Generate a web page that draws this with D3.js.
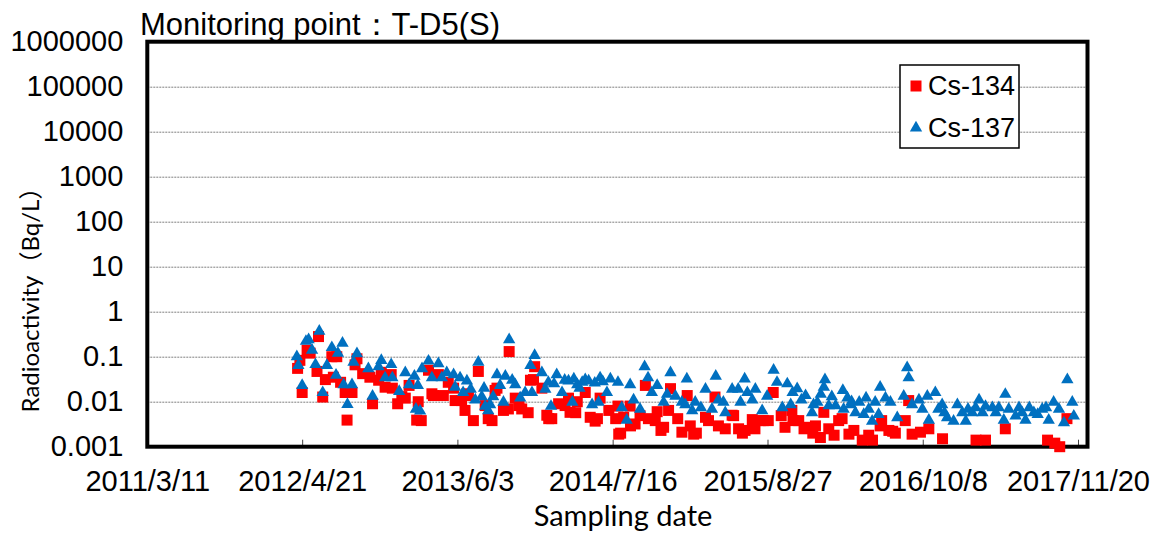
<!DOCTYPE html>
<html>
<head>
<meta charset="utf-8">
<script src="https://cdn.jsdelivr.net/npm/d3@7"></script>
<style>
body { margin: 0; background: #fff; }
text { font-family: "Liberation Sans", Arial, sans-serif; }
</style>
</head>
<body>
<svg width="1157" height="535"></svg>
<script>
// Cs-134 samples (Bq/L)
const cs134Dates = [
  "2012-04-09","2012-04-21","2012-05-04","2012-05-12","2012-05-30","2012-06-03","2012-06-14","2012-07-08",
  "2012-07-12","2012-07-21","2012-08-12","2012-08-17","2012-08-30","2012-09-07","2012-09-12","2012-10-16",
  "2012-10-23","2012-11-15","2012-11-25","2012-12-11","2012-12-28","2013-01-08","2013-01-27","2013-02-16",
  "2013-02-20","2013-02-28","2013-03-19","2013-04-01","2013-04-14","2013-04-27","2013-05-10","2013-05-24",
  "2013-06-14","2013-06-23","2013-06-28","2013-07-15","2013-07-28","2013-08-23","2013-09-10","2013-09-15",
  "2013-10-15","2013-10-17","2013-11-02","2013-11-19","2013-12-12","2013-12-20","2014-01-11","2014-01-24",
  "2014-02-06","2014-02-24","2014-03-22","2014-03-26","2014-04-14","2014-05-05","2014-05-18","2014-05-31",
  "2014-06-13","2014-07-06","2014-07-30","2014-08-01","2014-08-14","2014-08-31","2014-09-13","2014-10-10",
  "2014-10-18","2014-11-10","2014-11-27","2014-12-10","2014-12-15","2015-01-14","2015-01-28","2015-02-14",
  "2015-03-17","2015-04-11","2015-04-20","2015-05-26","2015-06-12","2015-06-29","2015-07-18","2015-08-08",
  "2015-08-29","2015-09-11","2015-10-12","2015-10-30","2015-11-17","2015-12-14","2015-12-31","2016-01-13",
  "2016-01-22","2016-02-18","2016-03-10","2016-03-28","2016-05-02","2016-05-19","2016-06-22","2016-07-11",
  "2016-07-21","2016-08-23","2016-09-01","2016-09-10","2016-10-02","2016-10-24","2016-11-29","2017-02-25",
  "2017-03-22","2017-05-13","2017-09-01","2017-09-20","2017-10-03","2017-10-22",
  // samples read from under the triangles
  "2012-04-15","2012-06-21","2012-07-31","2012-09-27","2012-11-08","2012-12-14","2013-01-17","2013-03-28",
  "2013-05-28","2013-07-02","2013-08-15","2013-09-02","2013-10-02","2013-11-12","2013-12-06","2013-12-23",
  "2014-01-29","2014-03-13","2014-04-10","2014-06-06","2014-07-24","2014-08-06","2014-09-01","2014-09-26",
  "2014-11-05","2014-11-20","2015-01-03","2015-02-05","2015-02-21","2015-03-25","2015-05-08","2015-05-30",
  "2015-06-22","2015-07-25","2015-08-16","2015-10-02","2015-11-02","2015-12-01","2015-12-24","2016-02-04",
  "2016-03-01","2016-04-10","2016-05-29","2016-06-18","2016-07-28"
];
const cs134Values = [
  0.055,0.016,0.14,0.12,0.047,0.28,0.0127,0.10,
  0.035,0.10,0.016,0.0039,0.016,0.066,0.09,0.035,
  0.009,0.045,0.021,0.04,0.009,0.013,0.023,0.0039,
  0.010,0.0038,0.05,0.0137,0.04,0.0137,0.027,0.02,
  0.0106,0.0064,0.015,0.0038,0.047,0.0042,0.0178,0.02,
  0.0069,0.13,0.012,0.0069,0.03,0.031,0.02,0.005,
  0.0042,0.009,0.012,0.0058,0.01,0.016,0.0045,0.0037,
  0.012,0.0064,0.008,0.0019,0.0045,0.008,0.0032,0.023,
  0.0042,0.006,0.0027,0.0064,0.0195,0.0021,0.0137,0.0019,
  0.0045,0.0127,0.0029,0.005,0.0025,0.0023,0.004,0.0038,
  0.0038,0.016,0.0027,0.0064,0.0038,0.0027,0.0029,0.0016,
  0.0058,0.0018,0.0042,0.0019,0.0014,0.0018,0.0038,0.0023,
  0.0022,0.0038,0.0106,0.0019,0.0021,0.0025,0.0015,0.0014,
  0.0014,0.0025,0.0014,0.0012,0.001,0.0042,
  0.083,0.031,0.027,0.042,0.030,0.020,0.012,0.015,
  0.0106,0.0137,0.0082,0.0038,0.0064,0.0082,0.0057,0.060,
  0.0042,0.0082,0.0057,0.0042,0.0042,0.0020,0.0029,0.0049,
  0.0038,0.0023,0.0042,0.0029,0.0020,0.0038,0.0025,0.0049,
  0.0020,0.0025,0.0038,0.0049,0.0038,0.0025,0.0020,0.0025,
  0.0038,0.0023,0.0014,0.0029,0.0020
];

// Cs-137 samples (Bq/L)
const cs137Dates = [
  "2012-04-07","2012-04-11","2012-04-21","2012-05-01","2012-05-08","2012-05-17","2012-05-26","2012-06-05",
  "2012-06-14","2012-06-25","2012-07-08","2012-07-19","2012-07-24","2012-08-05","2012-08-08","2012-08-18",
  "2012-08-30","2012-09-03","2012-09-12","2012-10-12","2012-10-23","2012-11-08","2012-11-15","2012-11-25",
  "2012-12-11","2012-12-14","2013-01-01","2013-01-17","2013-01-27","2013-02-10","2013-02-14","2013-02-19",
  "2013-02-25","2013-03-02","2013-03-19","2013-03-28","2013-04-14","2013-04-23","2013-05-06","2013-05-24",
  "2013-05-28","2013-06-10","2013-06-28","2013-07-20","2013-07-28","2013-08-06","2013-08-15","2013-08-23",
  "2013-08-28","2013-09-15","2013-09-23","2013-10-02","2013-10-07","2013-10-17","2013-11-02","2013-11-15",
  "2013-11-28","2013-12-12","2013-12-16","2013-12-23","2014-01-11","2014-01-20","2014-02-04","2014-02-19",
  "2014-03-05","2014-03-22","2014-04-01","2014-04-14","2014-04-27","2014-05-14","2014-05-23","2014-06-09",
  "2014-06-13","2014-07-01","2014-07-10","2014-07-30","2014-08-09","2014-08-22","2014-08-31","2014-09-09",
  "2014-09-26","2014-10-08","2014-10-17","2014-10-27","2014-11-10","2014-11-27","2014-12-06","2014-12-15",
  "2014-12-28","2015-01-14","2015-01-23","2015-01-27","2015-02-10","2015-02-18","2015-03-17","2015-04-03",
  "2015-04-13","2015-04-20","2015-05-08","2015-05-26","2015-06-11","2015-06-17","2015-06-28","2015-07-05",
  "2015-07-18","2015-07-26","2015-08-13","2015-08-26","2015-09-12","2015-09-21","2015-10-05","2015-10-18",
  "2015-10-27","2015-11-13","2015-12-05","2015-12-22","2016-01-05","2016-01-22","2016-01-25","2016-02-04",
  "2016-02-22","2016-03-12","2016-03-14","2016-04-04","2016-04-14","2016-05-06","2016-05-19","2016-05-28",
  "2016-06-14","2016-06-18","2016-07-02","2016-07-15","2016-08-02","2016-08-19","2016-08-28","2016-09-01",
  "2016-09-10","2016-09-28","2016-10-07","2016-10-20","2016-10-24","2016-11-10","2016-11-28","2016-12-11",
  "2016-12-28","2017-01-07","2017-01-20","2017-01-29","2017-02-15","2017-03-05","2017-03-22","2017-04-09",
  "2017-04-26","2017-05-09","2017-05-13","2017-05-22","2017-06-09","2017-06-26","2017-07-05","2017-07-27",
  "2017-08-18","2017-09-04","2017-09-17","2017-10-01","2017-10-14","2017-10-23","2017-11-05","2017-11-09",
  // further samples in the dense band
  "2013-06-18","2013-07-08","2013-08-12","2013-09-05","2013-10-25","2014-01-28","2014-02-12","2014-03-12",
  "2014-04-05","2014-04-20","2014-05-05","2014-05-30","2014-06-20","2015-03-05","2015-05-03","2015-11-01",
  "2015-11-24","2015-12-26","2016-01-14","2016-02-12","2016-03-24","2016-04-02","2016-04-24","2016-05-12",
  "2016-06-05","2016-11-18","2016-12-04","2017-02-04","2017-02-24","2017-03-14","2017-04-18","2017-06-18",
  "2017-07-15","2017-08-06","2017-08-28"
];
const cs137Values = [
  0.10,0.064,0.023,0.22,0.24,0.14,0.067,0.37,
  0.016,0.064,0.16,0.039,0.12,0.20,0.024,0.0087,
  0.024,0.076,0.117,0.054,0.0133,0.060,0.083,0.034,
  0.067,0.034,0.017,0.044,0.024,0.037,0.0068,0.023,
  0.0062,0.054,0.080,0.034,0.070,0.034,0.044,0.040,
  0.021,0.034,0.029,0.011,0.076,0.013,0.0079,0.0063,
  0.0086,0.040,0.023,0.0098,0.037,0.24,0.024,0.0122,
  0.016,0.064,0.016,0.107,0.044,0.019,0.0079,0.040,
  0.016,0.029,0.0098,0.024,0.027,0.029,0.0086,0.0097,
  0.034,0.016,0.032,0.027,0.0074,0.0039,0.024,0.011,
  0.0068,0.060,0.034,0.016,0.023,0.0097,0.0146,0.044,
  0.0133,0.0098,0.0086,0.032,0.0063,0.0098,0.019,0.0068,
  0.037,0.011,0.0057,0.019,0.019,0.0098,0.032,0.016,
  0.011,0.019,0.0063,0.0133,0.050,0.027,0.0074,0.025,
  0.0086,0.0195,0.0137,0.0057,0.0097,0.021,0.031,0.0082,
  0.0082,0.0178,0.0068,0.010,0.0057,0.0052,0.0068,0.0037,
  0.0052,0.021,0.0122,0.0098,0.0044,0.0133,0.057,0.034,
  0.0086,0.011,0.0068,0.0133,0.0039,0.016,0.0086,0.0044,
  0.0037,0.0086,0.0057,0.0037,0.0057,0.011,0.0079,0.0074,
  0.0074,0.0039,0.0146,0.0068,0.0048,0.0057,0.0039,0.0057,
  0.0068,0.0039,0.0098,0.0068,0.0034,0.031,0.0098,0.0048,
  0.016,0.019,0.020,0.013,0.030,0.027,0.025,0.030,
  0.032,0.020,0.031,0.026,0.028,0.0074,0.0098,0.016,
  0.011,0.0086,0.0146,0.013,0.0122,0.0086,0.0098,0.0122,
  0.0098,0.0068,0.0057,0.0068,0.0074,0.0057,0.0057,0.0074,
  0.0074,0.0052,0.0074
];

const xTickLabels = ["2011/3/11","2012/4/21","2013/6/3","2014/7/16","2015/8/27","2016/10/8","2017/11/20"];
const yTickValues = [0.001,0.01,0.1,1,10,100,1000,10000,100000,1000000];
const seriesNames = ["Cs-134","Cs-137"];

const w = 1157, h = 535;
var margin = {top: 41.7, right: 69.5, bottom: 88.3, left: 147.3},
    width = w - margin.left - margin.right,
    height = h - margin.top - margin.bottom;

var parseDay = d3.timeParse("%Y-%m-%d");
var parseTick = d3.timeParse("%Y/%m/%d");

var x = d3.scaleTime()
    .domain([parseTick("2011/3/11"), parseTick("2017/12/15")])
    .range([0, width]);
var y = d3.scaleLog()
    .domain([0.001, 1000000])
    .range([height, 0]);

var svg = d3.select("svg")
  .append("g")
    .attr("transform", "translate(" + margin.left + "," + margin.top + ")");

// dotted horizontal gridlines
svg.append("g")
    .attr("class", "grid")
    .call(d3.axisLeft(y).tickValues(yTickValues.slice(1, -1)).tickSize(-width).tickFormat(""))
    .call(g => g.select(".domain").remove())
    .call(g => g.selectAll("line")
        .attr("stroke", "#7f7f7f")
        .attr("stroke-width", 1)
        .attr("stroke-dasharray", "2,1"));

// y axis labels
svg.append("g")
    .attr("class", "y axis")
    .call(d3.axisLeft(y).tickValues(yTickValues).tickSize(0).tickPadding(24).tickFormat(d3.format("~f")))
    .call(g => g.select(".domain").remove())
    .call(g => g.selectAll("text")
        .attr("fill", "#000")
        .style("font-size", "29px")
        .style("font-family", "'Liberation Sans', Arial, sans-serif"));

// x axis, ticks pointing into the plot
var xTicks = xTickLabels.map(parseTick);
svg.append("g")
    .attr("class", "x axis")
    .attr("transform", "translate(0," + height + ")")
    .call(d3.axisBottom(x).tickValues(xTicks).tickSize(-7).tickPadding(24)
        .tickFormat((d, i) => xTickLabels[i]))
    .call(g => g.select(".domain").remove())
    .call(g => g.selectAll("line").attr("stroke", "#404040"))
    .call(g => g.selectAll("text")
        .attr("fill", "#000")
        .style("font-size", "29px")
        .style("font-family", "'Liberation Sans', Arial, sans-serif"));

// plot frame
svg.append("rect")
    .attr("width", width)
    .attr("height", height)
    .attr("fill", "none")
    .attr("stroke", "#000")
    .attr("stroke-width", 4);

var square = d3.symbol().type(d3.symbolSquare).size(121);
var triangle = d3.symbol().type(d3.symbolTriangle).size(66);

var data134 = cs134Dates.map((d, i) => ({date: parseDay(d), v: cs134Values[i]}));
var data137 = cs137Dates.map((d, i) => ({date: parseDay(d), v: cs137Values[i]}));

svg.append("g").selectAll("path")
    .data(data134)
  .enter().append("path")
    .attr("d", square)
    .attr("fill", "#ff0000")
    .attr("transform", d => "translate(" + x(d.date) + "," + y(d.v) + ")");

svg.append("g").selectAll("path")
    .data(data137)
  .enter().append("path")
    .attr("d", triangle)
    .attr("fill", "#0070c0")
    .attr("transform", d => "translate(" + x(d.date) + "," + y(d.v) + ")");

// legend
var legend = d3.select("svg").append("g")
    .attr("transform", "translate(900,65)");
legend.append("rect")
    .attr("width", 119)
    .attr("height", 83)
    .attr("fill", "#fff")
    .attr("stroke", "#000")
    .attr("stroke-width", 1.5);
legend.append("path")
    .attr("d", square)
    .attr("fill", "#ff0000")
    .attr("transform", "translate(16,21)");
legend.append("path")
    .attr("d", triangle)
    .attr("fill", "#0070c0")
    .attr("transform", "translate(16,63)");
legend.selectAll("text.leg")
    .data(seriesNames)
  .enter().append("text")
    .attr("class", "leg")
    .attr("x", 28)
    .attr("y", (d, i) => 21 + i * 42)
    .attr("dy", "0.35em")
    .style("font-size", "27px")
    .text(d => d);

// title
d3.select("svg").append("text")
    .attr("x", 140)
    .attr("y", 35)
    .style("font-size", "31px")
    .text("Monitoring point：T-D5(S)");

// axis titles
d3.select("svg").append("text")
    .attr("x", 623)
    .attr("y", 526)
    .style("text-anchor", "middle")
    .style("font-family", "Lato, 'Open Sans', sans-serif")
    .style("font-size", "29px")
    .text("Sampling date");

d3.select("svg").append("text")
    .attr("transform", "translate(39,294) rotate(-90)")
    .style("text-anchor", "middle")
    .style("font-family", "Lato, 'Noto Sans CJK JP', sans-serif")
    .style("font-size", "24px")
    .text("Radioactivity（Bq/L）");
</script>
</body>
</html>
